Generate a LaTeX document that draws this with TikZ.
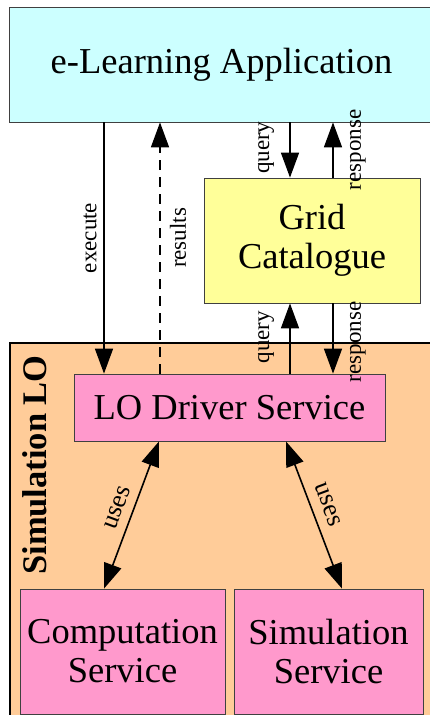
\documentclass[tikz,border=0pt]{standalone}
\usepackage{fontspec}
\setmainfont{Liberation Serif}
\usetikzlibrary{arrows.meta, positioning}
\definecolor{appcol}{RGB}{204,255,255}
\definecolor{gridcol}{RGB}{255,255,153}
\definecolor{locol}{RGB}{255,204,153}
\definecolor{svccol}{RGB}{255,153,204}
\tikzset{
  box/.style={draw=black!75, line width=0.8pt, inner sep=0pt, align=center,
              font=\fontsize{36.5}{39}\selectfont},
  app/.style={box, fill=appcol},
  cat/.style={box, fill=gridcol},
  svc/.style={box, fill=svccol},
  lo/.style={draw=black, line width=2pt, fill=locol},
  flow/.style={-{Triangle[length=25pt, width=18pt]}, line width=1.6pt},
  twoway/.style={{Triangle[length=25pt, width=18pt]}-{Triangle[length=25pt, width=18pt]}, line width=1.6pt},
  reply/.style={flow, dash pattern=on 10pt off 7pt},
  lbl/.style={font=\fontsize{23}{25}\selectfont, inner sep=0pt},
  uselbl/.style={font=\fontsize{26}{28}\selectfont, inner sep=0pt}
}

\begin{document}
\begin{tikzpicture}[x=1pt, y=-1pt]
  \useasboundingbox (0,0) rectangle (429,715);
  % Simulation LO container
  \node[lo, minimum width=440pt, minimum height=400pt] (slo) at (230,543) {};
  \node[font=\bfseries\fontsize{34.5}{36}\selectfont, rotate=90] (slotitle) at (35,465) {Simulation LO};
  \node[app, minimum width=425pt, minimum height=115pt] (app) at (221.5,64.5) {e-Learning Application};
  \node[cat, minimum width=216pt, minimum height=125pt] (grid) at (312,240.5) {Grid\\Catalogue};
  \node[svc, minimum width=311pt, minimum height=67pt] (drv) at (229.5,407.5) {LO Driver Service};
  \node[svc, minimum width=205pt, minimum height=125pt] (comp) at (122.5,651.5) {Computation\\Service};
  \node[svc, minimum width=189pt, minimum height=125pt] (sim) at (328.5,651.5) {Simulation\\Service};
  % connector columns
  \path (104,0) coordinate (xexe) (160,0) coordinate (xres)
        (290,0) coordinate (xqry) (333,0) coordinate (xrsp)
        (104,0) coordinate (xua) (159,0) coordinate (xub)
        (286,0) coordinate (xuc) (342,0) coordinate (xud);
  \draw[flow] (xexe |- app.south) -- node[lbl, pos=.46, xshift=-14pt, rotate=90] {execute} (xexe |- drv.north);
  \draw[reply] (xres |- drv.north) -- node[lbl, pos=.54, xshift=18pt, rotate=90] {results} (xres |- app.south);
  \draw[flow] (xqry |- app.south) -- node[lbl, pos=.46, xshift=-24pt, rotate=90] {query} (xqry |- grid.north);
  \draw[flow] (xrsp |- grid.north) -- node[lbl, pos=.5, xshift=25pt, rotate=90] {response} (xrsp |- app.south);
  \draw[flow] (xqry |- drv.north) -- node[lbl, pos=.52, xshift=-24pt, rotate=90] {query} (xqry |- grid.south);
  \draw[flow] (xrsp |- grid.south) -- node[lbl, pos=.55, xshift=25pt, rotate=90] {response} (xrsp |- drv.north);
  % uses
  \draw[twoway] (xua |- comp.north) -- node[uselbl, pos=.55, xshift=-17pt, rotate=69.6] {uses} (xub |- drv.south);
  \draw[twoway] (xuc |- drv.south) -- node[uselbl, pos=.43, xshift=18pt, rotate=-69.6] {uses} (xud |- sim.north);
\end{tikzpicture}
\end{document}
